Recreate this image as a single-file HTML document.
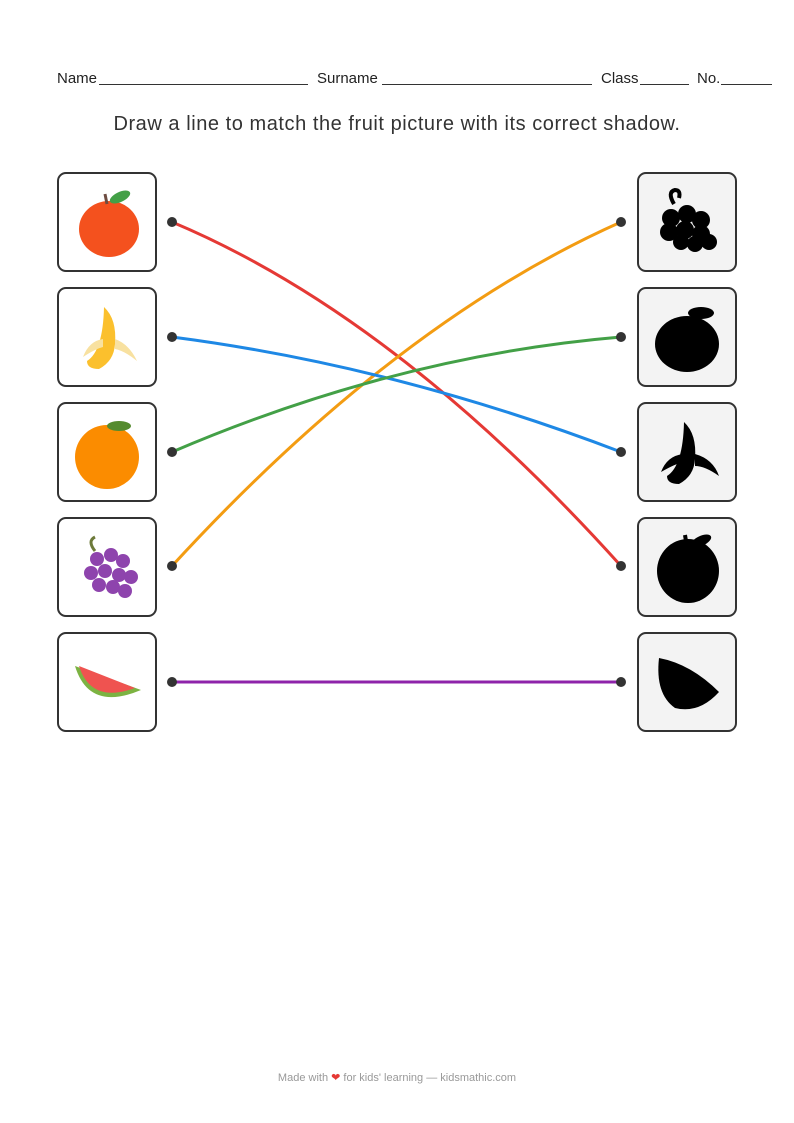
<!DOCTYPE html>
<html><head><meta charset="utf-8"><style>
body{margin:0;width:794px;height:1123px;background:#fff;position:relative;font-family:"Liberation Sans",sans-serif;color:#222;overflow:hidden}
.hdr{position:absolute;top:70px;font-size:15px}
.ln{position:absolute;top:84px;border-bottom:1px solid #333;height:0}
.title{position:absolute;top:113px;left:0;width:794px;text-align:center;font-size:20px;letter-spacing:0.55px;color:#333}
.box{position:absolute;width:96px;height:96px;border:2px solid #333;border-radius:9px;background:#fff}
.r{background:#f3f3f3}
.box svg{position:absolute;left:0;top:0}
.foot{position:absolute;top:1071px;width:794px;text-align:center;font-size:11px;color:#999}
</style></head><body>
<div class="hdr" style="left:57px">Name</div><div class="ln" style="left:99px;width:209px"></div>
<div class="hdr" style="left:317px">Surname</div><div class="ln" style="left:382px;width:210px"></div>
<div class="hdr" style="left:601px">Class</div><div class="ln" style="left:640px;width:49px"></div>
<div class="hdr" style="left:697px">No.</div><div class="ln" style="left:721px;width:51px"></div>
<div class="title">Draw a line to match the fruit picture with its correct shadow.</div>

<div class="box" style="left:57px;top:172px"><svg width="97" height="97"><ellipse cx="50" cy="55" rx="30" ry="28" fill="#f4511e"/><path d="M48 30 L46 20" stroke="#6d4c41" stroke-width="3"/><ellipse cx="61" cy="23" rx="11" ry="5" fill="#43a047" transform="rotate(-25 61 23)"/></svg></div>
<div class="box" style="left:57px;top:287px"><svg width="97" height="97"><path d="M45 18 Q58 30 56 55 Q55 72 40 80 Q28 80 28 72 Q44 62 45 18Z" fill="#fbc02d"/><path d="M56 50 Q70 55 78 72 Q66 62 56 60Z" fill="#f8e1a0"/><path d="M44 50 Q30 52 24 68 Q36 60 44 58Z" fill="#f8e1a0"/></svg></div>
<div class="box" style="left:57px;top:402px"><svg width="97" height="97"><circle cx="48" cy="53" r="32" fill="#fb8c00"/><ellipse cx="60" cy="22" rx="12" ry="5" fill="#558b2f"/></svg></div>
<div class="box" style="left:57px;top:517px"><svg width="97" height="97" fill="#8e44ad"><path d="M36 32 Q28 22 36 18" stroke="#6d7a3a" stroke-width="3" fill="none"/><circle cx="38" cy="40" r="7"/><circle cx="52" cy="36" r="7"/><circle cx="64" cy="42" r="7"/><circle cx="32" cy="54" r="7"/><circle cx="46" cy="52" r="7"/><circle cx="60" cy="56" r="7"/><circle cx="72" cy="58" r="7"/><circle cx="40" cy="66" r="7"/><circle cx="54" cy="68" r="7"/><circle cx="66" cy="72" r="7"/></svg></div>
<div class="box" style="left:57px;top:632px"><svg width="97" height="97"><path d="M16 32 Q30 78 82 56 Z" fill="#7cb342"/><path d="M20 32 Q32 70 76 54 Z" fill="#ef5350"/></svg></div>

<div class="box r" style="left:637px;top:172px"><svg width="97" height="97"><path d="M35 30 Q28 18 36 16 Q42 16 40 24" stroke="#000" stroke-width="4" fill="none"/><g fill="#000"><circle cx="32" cy="44" r="9"/><circle cx="48" cy="40" r="9"/><circle cx="62" cy="46" r="9"/><circle cx="30" cy="58" r="9"/><circle cx="46" cy="56" r="9"/><circle cx="62" cy="60" r="9"/><circle cx="70" cy="68" r="8"/><circle cx="42" cy="68" r="8"/><circle cx="56" cy="70" r="8"/></g></svg></div>
<div class="box r" style="left:637px;top:287px"><svg width="97" height="97"><ellipse cx="48" cy="55" rx="32" ry="28" fill="#000"/><ellipse cx="62" cy="24" rx="13" ry="6" fill="#000"/></svg></div>
<div class="box r" style="left:637px;top:402px"><svg width="97" height="97"><path d="M45 18 Q58 30 56 55 Q55 72 40 80 Q28 80 28 72 Q44 62 45 18Z" fill="#000"/><path d="M56 50 Q74 55 80 72 Q66 62 56 62Z" fill="#000"/><path d="M44 50 Q28 52 22 68 Q36 60 44 58Z" fill="#000"/></svg></div>
<div class="box r" style="left:637px;top:517px"><svg width="97" height="97"><ellipse cx="49" cy="52" rx="31" ry="32" fill="#000"/><path d="M48 28 L46 16" stroke="#000" stroke-width="4"/><ellipse cx="62" cy="22" rx="11" ry="5" fill="#000" transform="rotate(-25 62 22)"/></svg></div>
<div class="box r" style="left:637px;top:632px"><svg width="97" height="97"><path d="M20 24 Q16 60 36 74 Q60 80 80 58 Q52 30 20 24Z" fill="#000"/></svg></div>

<svg width="794" height="1123" style="position:absolute;left:0;top:0" fill="none" stroke-width="3">
<path d="M172 222 Q396 316 621 566" stroke="#e53935"/>
<path d="M172 566 Q396 322 621 222" stroke="#f39c12"/>
<path d="M172 337 Q396 366 621 452" stroke="#1e88e5"/>
<path d="M172 452 Q396 356 621 337" stroke="#43a047"/>
<path d="M172 682 L621 682" stroke="#8e24aa"/>
<g fill="#333" stroke="none">
<circle cx="172" cy="222" r="5"/><circle cx="172" cy="337" r="5"/><circle cx="172" cy="452" r="5"/><circle cx="172" cy="566" r="5"/><circle cx="172" cy="682" r="5"/>
<circle cx="621" cy="222" r="5"/><circle cx="621" cy="337" r="5"/><circle cx="621" cy="452" r="5"/><circle cx="621" cy="566" r="5"/><circle cx="621" cy="682" r="5"/>
</g></svg>
<div class="foot">Made with <span style="color:#e53935">❤</span> for kids' learning — kidsmathic.com</div>
</body></html>
